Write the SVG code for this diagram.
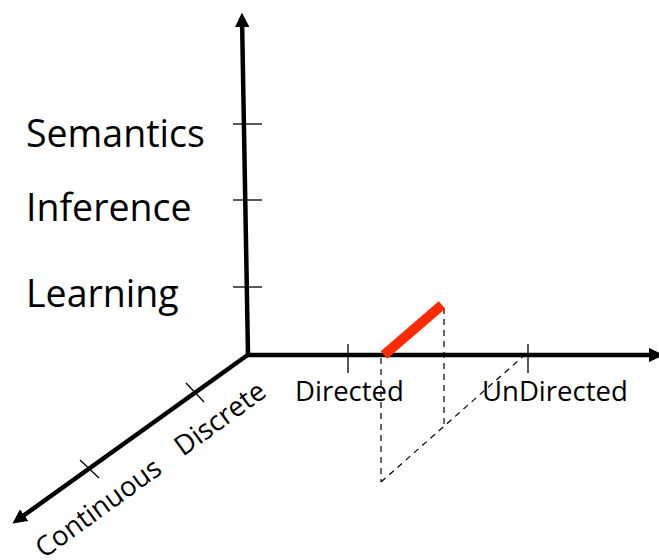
<svg xmlns="http://www.w3.org/2000/svg" width="659" height="560" viewBox="0 0 659 560">
<style>
.ax{stroke:#000;stroke-width:4.5;fill:none}
.tk{stroke:#000;stroke-width:1.3;fill:none}
.ds{stroke:#000;stroke-width:1.2;stroke-dasharray:6,5;fill:none}
.lb{font-family:"Open Sans","Noto Sans",sans-serif;fill:#000}
.big{font-size:37.5px}
.sm{font-size:27.5px}
</style>
<defs>
<marker id="ah" viewBox="0 0 10 10" refX="7" refY="5" markerWidth="3.2" markerHeight="3.2" orient="auto" markerUnits="strokeWidth">
<path d="M0,0 L10,5 L0,10 z" fill="#000"/>
</marker>
</defs>
<g id="connectors">
<line class="ax" x1="248" y1="355" x2="242" y2="17" marker-end="url(#ah)"/>
<line class="ax" x1="246" y1="355" x2="659" y2="355" marker-end="url(#ah)"/>
<line class="ax" x1="249" y1="354" x2="16" y2="521" marker-end="url(#ah)"/>
<line class="tk" x1="233" y1="124" x2="262" y2="124"/>
<line class="tk" x1="233" y1="200" x2="262" y2="200"/>
<line class="tk" x1="233" y1="287" x2="262" y2="287"/>
<line class="tk" x1="348" y1="344" x2="348" y2="373"/>
<line class="tk" x1="528" y1="344" x2="528" y2="373"/>
<line class="tk" x1="186" y1="383" x2="204" y2="402"/>
<line class="tk" x1="80" y1="460" x2="99" y2="478"/>
<line class="ds" x1="381" y1="358" x2="381" y2="482"/>
<line class="ds" x1="444" y1="308" x2="444" y2="427"/>
<line class="ds" x1="381" y1="482" x2="528" y2="352"/>
<line x1="384" y1="355" x2="442" y2="305" stroke="#ff2a00" stroke-width="10"/>
</g>
<g id="semantics"><text class="lb big" x="26" y="147">Semantics</text></g>
<g id="inference"><text class="lb big" x="26" y="221">Inference</text></g>
<g id="learning"><text class="lb big" x="26" y="307">Learning</text></g>
<g id="directed"><text class="lb sm" x="295" y="401">Directed</text></g>
<g id="undirected"><text class="lb sm" x="482" y="401">UnDirected</text></g>
<g id="discrete"><text class="lb sm" transform="translate(183,457) rotate(-36)">Discrete</text></g>
<g id="continuous"><text class="lb sm" transform="translate(44,559) rotate(-36)">Continuous</text></g>
</svg>
